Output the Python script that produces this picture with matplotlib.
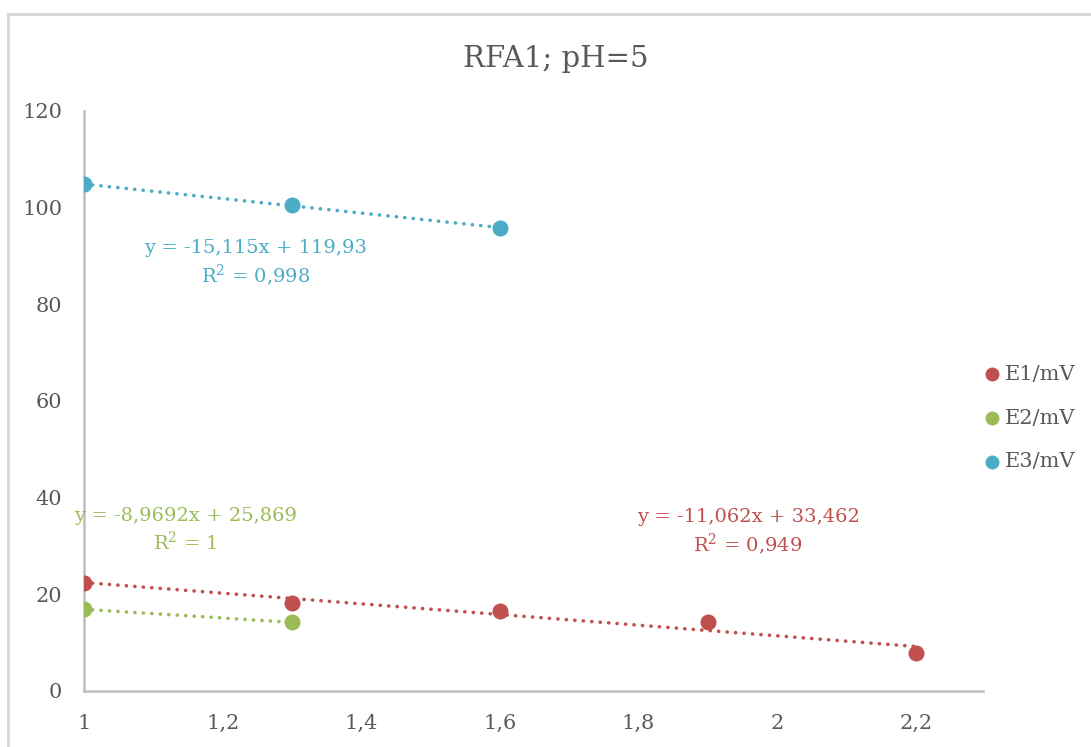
import matplotlib
matplotlib.use('Agg')
import matplotlib.pyplot as plt
from matplotlib.lines import Line2D
import numpy as np

# data
x_e1 = [1.0, 1.3, 1.6, 1.9, 2.2]
y_e1 = [22.3, 18.3, 16.5, 14.2, 7.8]
x_e2 = [1.0, 1.3]
y_e2 = [16.9, 14.2]
x_e3 = [1.0, 1.3, 1.6]
y_e3 = [104.8, 100.5, 95.8]

series_names = ['E1/mV', 'E2/mV', 'E3/mV']
series_colors = ['#C0504D', '#9BBB59', '#4BACC6']
trend_labels = [
    'y = -11,062x + 33,462\nR$^2$ = 0,949',
    'y = -8,9692x + 25,869\nR$^2$ = 1',
    'y = -15,115x + 119,93\nR$^2$ = 0,998',
]
x_ticks = [1.0, 1.2, 1.4, 1.6, 1.8, 2.0, 2.2]
x_ticklabels = ['1', '1,2', '1,4', '1,6', '1,8', '2', '2,2']
y_ticks = [0, 20, 40, 60, 80, 100, 120]

plt.rcParams['font.family'] = ['DejaVu Serif']
plt.rcParams['mathtext.fontset'] = 'dejavuserif'
text_grey = '#595959'
axis_grey = '#BFBFBF'

fig = plt.figure(figsize=(10.91, 7.47), dpi=100)
ax = fig.add_axes([0.077, 0.075, 0.824, 0.7765])

# chart border (top and left edges visible)
fig.add_artist(Line2D([8 / 1091, 1.0], [1 - 14 / 747, 1 - 14 / 747],
                      transform=fig.transFigure, color='#D9D9D9', lw=2.2))
fig.add_artist(Line2D([8 / 1091, 8 / 1091], [0.0, 1 - 14 / 747],
                      transform=fig.transFigure, color='#D9D9D9', lw=2.2))

all_x = [x_e1, x_e2, x_e3]
all_y = [y_e1, y_e2, y_e3]
label_pos = [(1.958, 32.8), (1.146, 33.2), (1.248, 88.4)]

for xs, ys, name, col, lab, pos in zip(all_x, all_y, series_names, series_colors,
                                        trend_labels, label_pos):
    ax.scatter(xs, ys, s=133, color=col, label=name, zorder=3, linewidths=0)
    k, b = np.polyfit(xs, ys, 1)
    xx = np.array([min(xs), max(xs)])
    ax.plot(xx, k * xx + b, color=col, lw=2.6, linestyle=(0, (0.05, 2.3)),
            dash_capstyle='round', zorder=4)
    ax.text(pos[0], pos[1], lab, color=col, fontsize=14, ha='center', va='center',
            linespacing=1.3)

ax.set_xlim(1.0, 2.297)
ax.set_ylim(0, 120)
ax.set_xticks(x_ticks)
ax.set_xticklabels(x_ticklabels)
ax.set_yticks(y_ticks)
ax.tick_params(length=0, labelsize=15, labelcolor=text_grey)
ax.tick_params(axis='x', pad=16.5)
ax.tick_params(axis='y', pad=15.5)
for s in ['top', 'right']:
    ax.spines[s].set_visible(False)
for s in ['left', 'bottom']:
    ax.spines[s].set_color(axis_grey)
    ax.spines[s].set_linewidth(1.8)

fig.text(0.509, 0.921, 'RFA1; pH=5', ha='center', va='center', fontsize=21,
         color=text_grey)

fig.legend(*ax.get_legend_handles_labels(), loc='center left',
           bbox_to_anchor=(981.6 / 1091, 1 - 418 / 747), frameon=False,
           fontsize=15, labelcolor=text_grey, handlelength=1.0,
           handletextpad=0.125, labelspacing=1.19, markerscale=0.87,
           borderpad=0, borderaxespad=0)

fig.savefig('out.png', dpi=100)
